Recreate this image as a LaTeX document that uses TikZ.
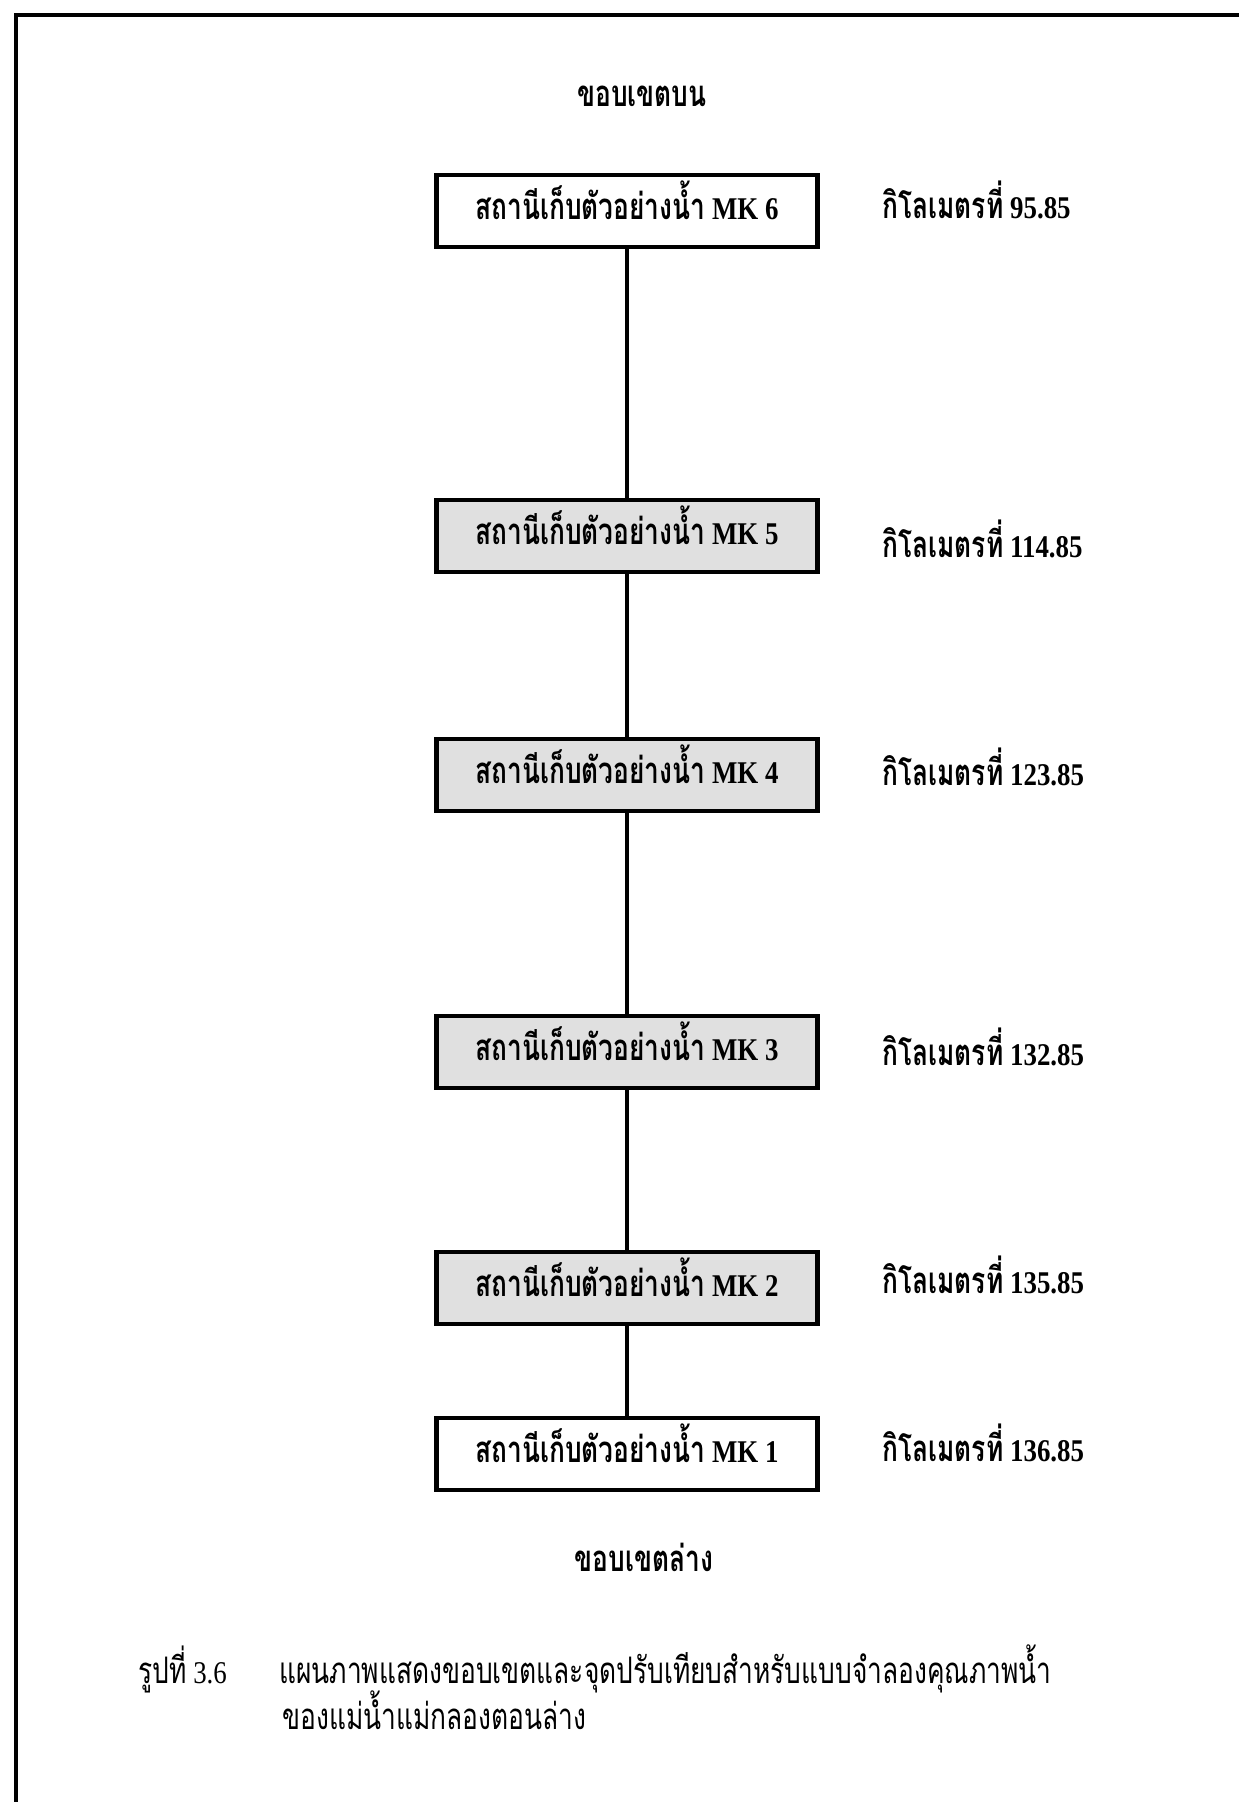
\documentclass[tikz,border=0pt]{standalone}
\usepackage{fontspec}
\setmainfont{Liberation Serif}[FakeStretch=0.85]
\newfontfamily\thaifont[Script=Thai,FakeStretch=0.72,Scale=1.156]{Loma}
\usetikzlibrary{positioning}

\newcommand{\thaitext}[1]{{\thaifont #1}}
\newcommand{\stationname}[1]{\thaitext{สถานีเก็บตัวอย่างน้ำ} MK #1}
\newcommand{\kmtext}[1]{\thaitext{กิโลเมตรที่} #1}

\begin{document}
\begin{tikzpicture}[x=0.02cm, y=-0.02cm,
    station/.style={draw, line width=2.5pt, minimum width=7.62cm, minimum height=1.43cm,
        inner sep=0pt, fill=white, text height=2.3ex, text depth=0.3ex,
        font=\fontsize{18}{20}\selectfont\bfseries},
    shadedstation/.style={station, fill=black!12},
    kmlabel/.style={anchor=west, inner sep=0pt, text height=2.3ex, text depth=0.3ex,
        font=\fontsize{18}{20}\selectfont\bfseries},
    boundary/.style={inner sep=0pt, text height=2.3ex, text depth=0.3ex,
        font=\fontsize{18}{20}\selectfont\bfseries},
    caption/.style={anchor=west, inner sep=0pt, text height=2.3ex, text depth=0.4ex,
        font=\fontsize{18}{20}\selectfont},
    link/.style={line width=1.8pt},
    frame/.style={line width=2.6pt}]
    \useasboundingbox (0,0) rectangle (1239,1802);

    % Page frame (top and left edges only)
    \draw[frame] (1239,15) -- (16,15) -- (16,1802);

    % Upper boundary
    \node[boundary] (upper) at (642,98) {\thaitext{ขอบเขตบน}};

    % Sampling stations
    \node[station]       (mk6) at (627,211)  {\stationname{6}};
    \node[shadedstation] (mk5) at (627,536)  {\stationname{5}};
    \node[shadedstation] (mk4) at (627,775)  {\stationname{4}};
    \node[shadedstation] (mk3) at (627,1052) {\stationname{3}};
    \node[shadedstation] (mk2) at (627,1288) {\stationname{2}};
    \node[station]       (mk1) at (627,1454) {\stationname{1}};

    % Kilometre labels
    \node[kmlabel] (km6) at (882,210)  {\kmtext{95.85}};
    \node[kmlabel] (km5) at (882,549)  {\kmtext{114.85}};
    \node[kmlabel] (km4) at (882,777)  {\kmtext{123.85}};
    \node[kmlabel] (km3) at (882,1057) {\kmtext{132.85}};
    \node[kmlabel] (km2) at (882,1285) {\kmtext{135.85}};
    \node[kmlabel] (km1) at (882,1453) {\kmtext{136.85}};

    % Links between stations
    \draw[link] (mk6) -- (mk5);
    \draw[link] (mk5) -- (mk4);
    \draw[link] (mk4) -- (mk3);
    \draw[link] (mk3) -- (mk2);
    \draw[link] (mk2) -- (mk1);

    % Lower boundary
    \node[boundary] (lower) at (644,1563) {\thaitext{ขอบเขตล่าง}};

    % Caption
    \node[caption] (fignum) at (138,1676) {\thaitext{รูปที่} 3.6};
    \node[caption] (capline1) at (279,1676) {\thaitext{แผนภาพแสดงขอบเขตและจุดปรับเทียบสำหรับแบบจำลองคุณภาพน้ำ}};
    \node[caption] (capline2) at (282,1722) {\thaitext{ของแม่น้ำแม่กลองตอนล่าง}};
\end{tikzpicture}
\end{document}
